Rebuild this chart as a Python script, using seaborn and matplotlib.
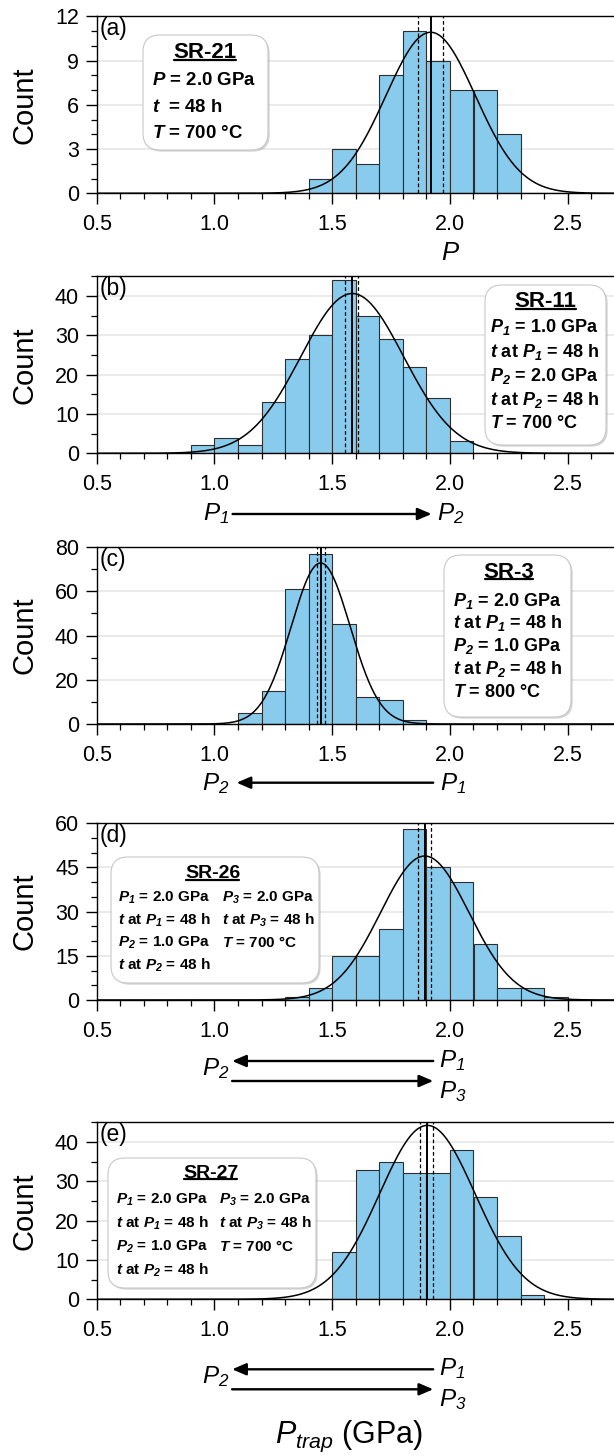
import numpy as np
import pandas as pd
import matplotlib
matplotlib.use("Agg")
import matplotlib.pyplot as plt
import matplotlib.patheffects as pe
from matplotlib.patches import FancyBboxPatch
from matplotlib.lines import Line2D
from matplotlib.ticker import MultipleLocator, FormatStrFormatter
from matplotlib.transforms import blended_transform_factory, IdentityTransform
import seaborn as sns

# ---- data (bins are 0.1 GPa wide) ----
BIN_W = 0.1
counts_a = [1, 3, 2, 8, 11, 9, 7, 7, 4]
start_a = 1.4
counts_b = [2, 4, 2, 13, 24, 30, 44, 35, 29, 22, 14, 3]
start_b = 0.9
counts_c = [5, 15, 61, 77, 45, 12, 11, 2]
start_c = 1.1
counts_d = [1, 4, 15, 15, 24, 58, 45, 40, 19, 4, 4, 1]
start_d = 1.3
counts_e = [12, 33, 35, 32, 32, 38, 26, 16, 1]
start_e = 1.5

# fitted normal (mean, sd) and 95% CI of the mean
fit_mean = [1.918, 1.585, 1.451, 1.893, 1.904]
fit_sd = [0.190, 0.218, 0.125, 0.188, 0.203]
ci_low = [1.866, 1.553, 1.434, 1.863, 1.874]
ci_high = [1.972, 1.611, 1.469, 1.920, 1.929]

panel_tags = ["(a)", "(b)", "(c)", "(d)", "(e)"]
y_max = [12, 45, 80, 60, 45]
y_major = [3, 10, 20, 15, 10]
y_minor = [1, 5, 10, 5, 5]
x_ticks = [0.5, 1.0, 1.5, 2.0, 2.5]

box_titles = ["SR-21", "SR-11", "SR-3", "SR-26", "SR-27"]
box_a = [r"$\mathbfit{P}$ = 2.0 GPa", r"$\mathbfit{t}$  = 48 h", r"$\mathbfit{T}$ = 700 °C"]
box_b = [r"$\mathbfit{P}_{\mathbfit{1}}$ = 1.0 GPa", r"$\mathbfit{t}$ at $\mathbfit{P}_{\mathbfit{1}}$ = 48 h",
         r"$\mathbfit{P}_{\mathbfit{2}}$ = 2.0 GPa", r"$\mathbfit{t}$ at $\mathbfit{P}_{\mathbfit{2}}$ = 48 h",
         r"$\mathbfit{T}$ = 700 °C"]
box_c = [r"$\mathbfit{P}_{\mathbfit{1}}$ = 2.0 GPa", r"$\mathbfit{t}$ at $\mathbfit{P}_{\mathbfit{1}}$ = 48 h",
         r"$\mathbfit{P}_{\mathbfit{2}}$ = 1.0 GPa", r"$\mathbfit{t}$ at $\mathbfit{P}_{\mathbfit{2}}$ = 48 h",
         r"$\mathbfit{T}$ = 800 °C"]
box_de_left = [r"$\mathbfit{P}_{\mathbfit{1}}$ = 2.0 GPa", r"$\mathbfit{t}$ at $\mathbfit{P}_{\mathbfit{1}}$ = 48 h",
               r"$\mathbfit{P}_{\mathbfit{2}}$ = 1.0 GPa", r"$\mathbfit{t}$ at $\mathbfit{P}_{\mathbfit{2}}$ = 48 h"]
box_de_right = [r"$\mathbfit{P}_{\mathbfit{3}}$ = 2.0 GPa", r"$\mathbfit{t}$ at $\mathbfit{P}_{\mathbfit{3}}$ = 48 h",
                r"$\mathbfit{T}$ = 700 °C"]

all_counts = [counts_a, counts_b, counts_c, counts_d, counts_e]
all_starts = [start_a, start_b, start_c, start_d, start_e]

sns.set_theme(style="ticks")
plt.rcParams["font.family"] = ["Liberation Sans", "DejaVu Sans"]
plt.rcParams["mathtext.fontset"] = "custom"
plt.rcParams["mathtext.rm"] = "Liberation Sans"
plt.rcParams["mathtext.it"] = "Liberation Sans:italic"
plt.rcParams["mathtext.sf"] = "Liberation Sans:italic"   # italic digits for subscripts
plt.rcParams["mathtext.bf"] = "Liberation Sans:bold"
plt.rcParams["mathtext.bfit"] = "Liberation Sans:bold:italic"
plt.rcParams["axes.linewidth"] = 1.0
for k in ["text.color", "axes.labelcolor", "xtick.color", "ytick.color", "axes.edgecolor"]:
    plt.rcParams[k] = "black"

W, H = 614, 1456
fig = plt.figure(figsize=(W / 100, H / 100), dpi=100)

def P(x, y):
    # pixel (from top-left) -> inches for dpi_scale_trans
    return x / 100, (H - y) / 100

ax_left, ax_right = 96.7, 614.8
ax_bottoms = [193.3, 453.3, 724.0, 1000.0, 1299.3]
ax_h = 177.0

axes = []
for i in range(5):
    ax = fig.add_axes([ax_left / W, (H - ax_bottoms[i]) / H, (ax_right - ax_left) / W, ax_h / H])
    axes.append(ax)
    cnt = np.array(all_counts[i], dtype=float)
    edges = all_starts[i] + BIN_W * np.arange(len(cnt) + 1)
    centers = edges[:-1] + BIN_W / 2
    df = pd.DataFrame({"p": centers, "n": cnt})
    sns.histplot(data=df, x="p", weights="n", bins=[float(e) for e in edges], ax=ax, color="#88CBEC",
                 edgecolor="#2e2e2e", linewidth=0.8, alpha=1, zorder=2)
    # normal fit scaled to counts
    xs = np.linspace(0.5, 2.7, 500)
    ys = cnt.sum() * BIN_W / (fit_sd[i] * np.sqrt(2 * np.pi)) * np.exp(-0.5 * ((xs - fit_mean[i]) / fit_sd[i]) ** 2)
    sns.lineplot(x=xs, y=ys, ax=ax, color="black", linewidth=1.1, zorder=4)
    ax.axvline(fit_mean[i], color="black", lw=1.4, zorder=5)
    ax.axvline(ci_low[i], color="black", lw=0.9, ls=(0, (3, 2)), zorder=5)
    ax.axvline(ci_high[i], color="black", lw=0.9, ls=(0, (3, 2)), zorder=5)

    ax.set_xlim(0.5, 2.7)
    ax.set_ylim(0, y_max[i])
    ax.set_xticks(x_ticks)
    ax.xaxis.set_major_formatter(FormatStrFormatter("%.1f"))
    ax.xaxis.set_minor_locator(MultipleLocator(0.1))
    ax.yaxis.set_major_locator(MultipleLocator(y_major[i]))
    ax.yaxis.set_minor_locator(MultipleLocator(y_minor[i]))
    ax.tick_params(which="major", length=7.8, width=1.0, labelsize=15.5, pad=5, color="black",
                   labelcolor="black")
    ax.tick_params(which="minor", length=4.0, width=0.9, color="black")
    ax.tick_params(axis="x", which="major", pad=7)
    ax.yaxis.grid(True, color="#e8e8e8", lw=1.3)
    ax.set_axisbelow(True)
    ax.spines["right"].set_visible(False)
    for s in ["top", "left", "bottom"]:
        ax.spines[s].set_color("black")
    ax.set_xlabel("")
    ax.set_ylabel("Count", fontsize=21, color="black")
    ax.yaxis.set_label_coords(-0.112, 0.5)
    ax.text(0.006, 0.995, panel_tags[i], transform=ax.transAxes, ha="left", va="top", fontsize=16.5)

# ---- x-axis captions below each panel ----
def arrow(ax, x0, x1, dy):
    tr = blended_transform_factory(ax.transData, ax.transAxes)
    y = -dy / ax_h
    ax.annotate("", xy=(x1, y), xytext=(x0, y), xycoords=tr, textcoords=tr, annotation_clip=False,
                arrowprops=dict(arrowstyle="-|>,head_length=0.7,head_width=0.3", color="black",
                                lw=1.7, mutation_scale=12, shrinkA=0, shrinkB=0))

def plabel(ax, s, x, dy, ha, size=17.5):
    tr = blended_transform_factory(ax.transData, ax.transAxes)
    ax.text(x, -dy / ax_h, s, transform=tr, ha=ha, va="baseline", fontsize=size, clip_on=False)

plabel(axes[0], r"$P$", 2.004, 66.7, "center", 18.5)

arrow(axes[1], 1.077, 1.922, 60.7)
plabel(axes[1], r"$P_{\mathsf{1}}$", 1.062, 66.7, "right")
plabel(axes[1], r"$P_{\mathsf{2}}$", 1.945, 66.7, "left")

arrow(axes[2], 1.929, 1.094, 58.7)
plabel(axes[2], r"$P_{\mathsf{2}}$", 1.062, 66.0, "right")
plabel(axes[2], r"$P_{\mathsf{1}}$", 1.958, 66.0, "left")

for ax, d1, d2 in [(axes[3], 61, 81), (axes[4], 70, 90)]:
    arrow(ax, 1.929, 1.075, d1)
    arrow(ax, 1.075, 1.929, d2)
    plabel(ax, r"$P_{\mathsf{1}}$", 1.955, d1 + 6, "left")
    plabel(ax, r"$P_{\mathsf{2}}$", 1.062, d1 + 14, "right")
    plabel(ax, r"$P_{\mathsf{3}}$", 1.955, d2 + 17, "left")

fig.text(349 / W, (H - 1443) / H, r"$P_{trap}$ (GPa)", ha="center", va="baseline", fontsize=22)

# ---- info boxes ----
tr_in = fig.dpi_scale_trans
box_specs = [
    # (x0, y0, x1, y1) pixels, title (cx, cy, size), line fontsize, columns [(x, [ys], lines)]
    ((143, 35, 268, 150), (205, 52.7, 16), 13.4, [(152.3, [80.7, 107.7, 133.3], box_a)]),
    ((485, 285, 606, 445), (545.7, 301.7, 16), 13.0, [(490, [327.3, 351.7, 375.7, 400, 423.3], box_b)]),
    ((444, 555, 571, 717), (509, 572.3, 16), 13.0, [(452.7, [600.7, 623.3, 646, 669, 692.5], box_c)]),
    ((111, 857, 319, 983), (212.7, 874, 14), 11.0, [(118.3, [898.3, 920, 942.7, 965], box_de_left),
                                                   (221.7, [898.3, 920, 942.7], box_de_right)]),
    ((108, 1158, 316, 1288), (210.7, 1173.3, 14), 11.0, [(116, [1200, 1223.3, 1246.7, 1270], box_de_left),
                                                        (219.3, [1200, 1223.3, 1246.7], box_de_right)]),
]

title_texts = []
for i, (rect, ttl, fs, cols) in enumerate(box_specs):
    x0, y0, x1, y1 = rect
    bx, by = P(x0, y1)
    patch = FancyBboxPatch((bx, by), (x1 - x0) / 100, (y1 - y0) / 100,
                           boxstyle="round,pad=0,rounding_size=0.17", transform=tr_in,
                           facecolor="white", edgecolor="#c8c8c8", lw=0.8, zorder=10)
    patch.set_path_effects([pe.SimplePatchShadow(offset=(1.2, -1.2), shadow_rgbFace="#a0a0a0", alpha=0.45),
                            pe.Normal()])
    fig.add_artist(patch)
    tx, ty = P(ttl[0], ttl[1])
    t = fig.text(tx, ty, box_titles[i], transform=tr_in, ha="center", va="center",
                 fontsize=ttl[2], fontweight="bold", zorder=11)
    title_texts.append(t)
    for cx, ys, lines in cols:
        for yy, s in zip(ys, lines):
            lx, ly = P(cx, yy)
            fig.text(lx, ly, s, transform=tr_in, ha="left", va="center", fontsize=fs,
                     fontweight="bold", zorder=11)

# underline the sample names
fig.canvas.draw()
renderer = fig.canvas.get_renderer()
for t in title_texts:
    bb = t.get_window_extent(renderer)
    yl = bb.y0 + 0.17 * bb.height
    fig.add_artist(Line2D([bb.x0 + 1, bb.x1 - 1], [yl, yl], transform=IdentityTransform(),
                          color="black", lw=1.6, zorder=12))

fig.savefig("out.png", dpi=100)
